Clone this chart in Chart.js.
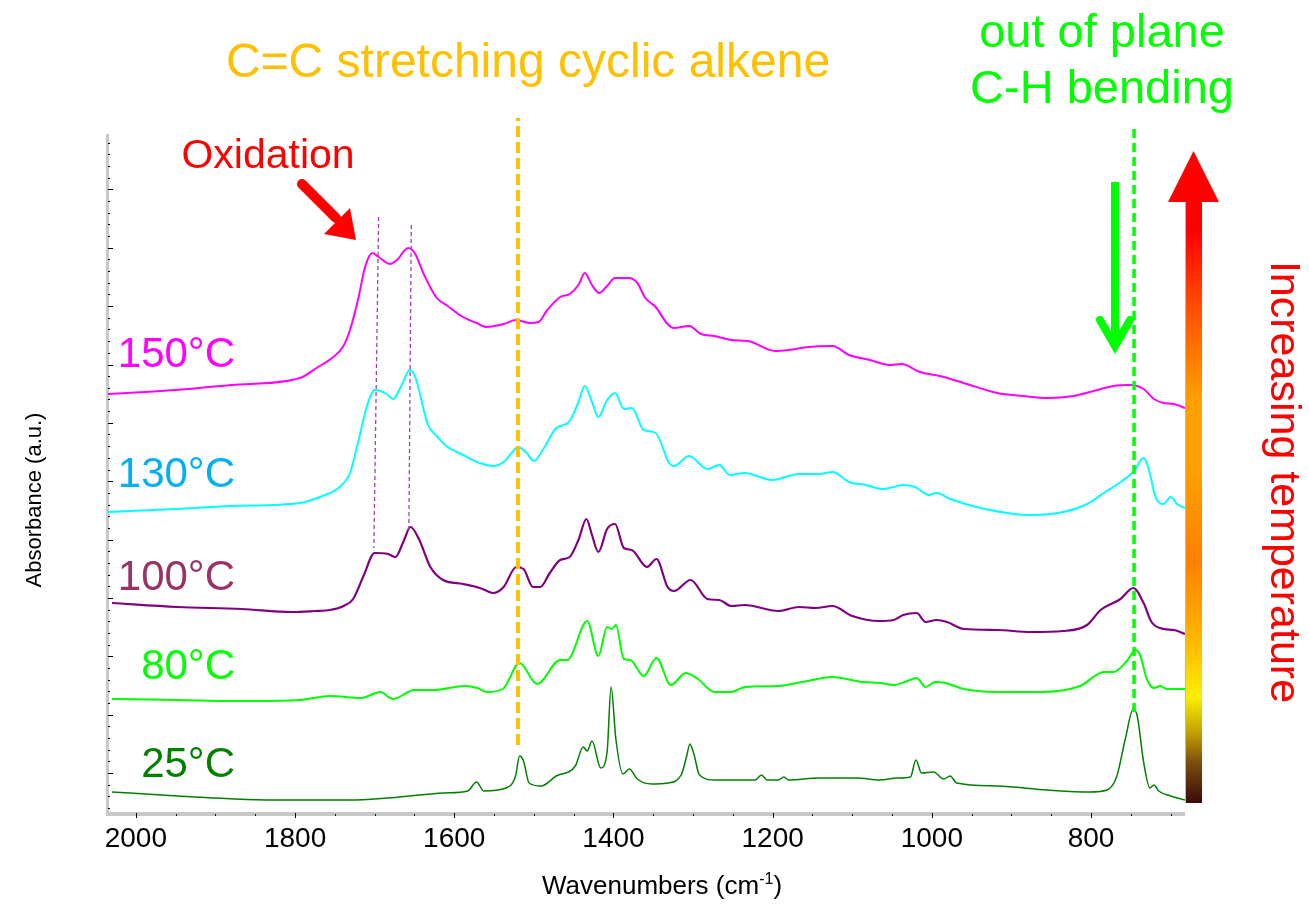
<!DOCTYPE html>
<html lang="en">
<head>
<meta charset="utf-8">
<title>FTIR spectra vs temperature</title>
<script src="https://cdn.jsdelivr.net/npm/chart.js@4.4.1/dist/chart.umd.min.js"></script>
<style>
  html, body { margin: 0; padding: 0; background: #ffffff; }
</style>
</head>
<body>
<canvas id="spectra" width="1309" height="904"></canvas>
<script>
// wavenumbers (cm-1) and absorbance (a.u., stacked offsets)
const wn150 = [2035,1950,1880,1794,1773,1752,1740,1731,1721,1712,1703,1695,1681,1672,1658,1649,1639,1622,1610,1589,1572,1559,1538,1522,1505,1494,1484,1467,1455,1444,1436,1427,1418,1408,1398,1381,1370,1360,1347,1332,1324,1305,1290,1273,1252,1231,1197,1180,1155,1125,1104,1078,1053,1038,1015,990,960,918,885,855,822,797,772,751,734,721,709,696,682];
const abs150 = [419,423,428,435,445,456,466,483,513,546,560,556,549,553,565,559,540,515,508,496,490,486,489,493,490,491,502,516,519,528,540,528,520,527,535,535,530,515,506,489,485,487,479,477,473,472,462,463,466,467,458,453,448,449,441,437,430,420,417,415,417,422,427,428,424,414,410,409,405];

const wn130 = [2035,1950,1880,1794,1769,1744,1731,1721,1710,1700,1685,1677,1666,1656,1649,1633,1622,1610,1589,1568,1551,1538,1528,1520,1509,1500,1488,1473,1455,1444,1436,1427,1419,1408,1398,1387,1377,1362,1347,1330,1324,1305,1282,1267,1254,1235,1201,1167,1142,1125,1104,1083,1062,1048,1036,1021,1004,994,977,939,897,876,835,805,784,763,747,734,728,719,709,700,692,682];
const abs130 = [301,304,307,310,316,326,340,370,406,423,419,414,428,443,436,388,377,367,358,350,347,351,360,366,360,352,364,384,392,411,427,411,396,413,420,404,405,383,380,350,347,357,344,348,338,340,333,339,339,341,331,328,324,326,328,326,318,320,314,305,299,298,301,309,320,331,341,355,345,316,309,316,309,305];

const wn100 = [2030,1948,1867,1804,1775,1756,1739,1727,1714,1700,1683,1674,1664,1655,1645,1630,1614,1589,1568,1559,1551,1538,1522,1513,1501,1492,1480,1467,1455,1444,1434,1427,1419,1408,1398,1387,1377,1358,1346,1332,1324,1303,1282,1267,1252,1235,1193,1167,1146,1125,1100,1066,1048,1036,1019,1008,994,981,960,918,876,835,805,788,763,747,734,724,709,696,682];
const abs100 = [210,206,204,201,202,203,207,214,237,260,259,256,271,286,275,246,233,229,225,222,220,226,246,244,226,226,240,253,256,273,294,278,261,284,289,265,263,246,254,226,222,233,214,213,207,208,202,206,205,207,197,192,193,198,200,191,193,191,184,183,181,182,188,203,214,225,210,191,184,183,179];

const wn80 = [2030,1948,1852,1794,1756,1717,1693,1677,1650,1626,1587,1571,1559,1539,1518,1496,1467,1458,1433,1419,1408,1402,1397,1387,1379,1362,1346,1328,1309,1294,1273,1252,1235,1193,1163,1125,1087,1065,1048,1034,1019,1008,996,983,960,918,864,814,784,772,755,744,738,730,721,713,705,682];
const abs80 = [114,113,112,113,117,115,121,114,123,123,127,125,121,124,150,129,153,153,192,157,186,184,188,154,153,137,155,128,140,134,121,121,126,127,131,136,131,130,128,131,135,126,131,130,124,121,121,127,141,141,152,163,157,134,125,127,124,124];

const wn25 = [2030,1948,1876,1828,1732,1684,1612,1583,1572,1563,1535,1523,1518,1513,1506,1491,1472,1448,1438,1433,1427,1416,1408,1403,1397,1388,1380,1370,1352,1332,1315,1308,1304,1299,1292,1273,1222,1214,1207,1193,1186,1180,1142,1095,1065,1044,1027,1020,1013,998,985,977,969,918,855,801,780,768,757,747,742,734,726,721,715,700,682];
const abs25 = [21,17,14,13,13,15,20,22,31,22,25,37,57,52,30,27,37,47,66,62,72,45,61,126,74,39,44,34,29,30,38,57,69,59,38,33,33,38,33,33,36,33,35,35,33,35,36,53,40,41,34,37,30,27,23,21,23,36,74,104,97,51,25,28,22,17,13];

const tempLabels = ['150°C', '130°C', '100°C', '80°C', '25°C'];
const lineColors = ['#ff00ff', '#00ffff', '#800080', '#00ff00', '#008000'];
const labelColors = ['#ff00ff', '#00b0f0', '#993366', '#00ff00', '#008000'];

// marker lines: C=C band, C-H band, oxidation peaks
const ccBandWn = [1520, 1520];
const ccBandAbs = [68, 695];
const chBandWn = [746, 746];
const chBandAbs = [101, 688];
const oxPeak1Wn = [1695, 1701];
const oxPeak1Abs = [596, 265];
const oxPeak2Wn = [1654, 1657];
const oxPeak2Abs = [588, 283];

const xTickStep = 200;
const yMajorTicks = [40, 98.4, 156.7, 215.1, 273.4, 331.8, 390.2, 448.5, 506.9, 565.2, 623.6];

function pts(xs, ys) {
  return xs.map((w, i) => ({ x: w, y: ys[i] }));
}

Chart.defaults.font.family = "'Liberation Sans', Arial, Helvetica, sans-serif";

const spectra = [
  [wn150, abs150], [wn130, abs130], [wn100, abs100], [wn80, abs80], [wn25, abs25]
];

const markerSets = [
  { label: 'C=C', data: pts(ccBandWn, ccBandAbs), borderColor: '#ffc000', borderWidth: 4, borderDash: [11, 5] },
  { label: 'C-H', data: pts(chBandWn, chBandAbs), borderColor: '#00ff00', borderWidth: 3.5, borderDash: [9, 5] },
  { label: 'ox1', data: pts(oxPeak1Wn, oxPeak1Abs), borderColor: '#a040b0', borderWidth: 1.3, borderDash: [4, 3] },
  { label: 'ox2', data: pts(oxPeak2Wn, oxPeak2Abs), borderColor: '#a040b0', borderWidth: 1.3, borderDash: [4, 3] }
].map(d => Object.assign(d, { clip: false, pointRadius: 0, tension: 0 }));

const spectraSets = spectra.map((s, i) => ({
  label: tempLabels[i],
  data: pts(s[0], s[1]),
  borderColor: lineColors[i],
  borderWidth: i === 4 ? 1.5 : (i === 2 ? 2.2 : 2),
  pointRadius: 0,
  cubicInterpolationMode: 'monotone'
}));

const labelBaselines = [367, 487, 590, 679, 777];

const decorations = {
  id: 'decorations',
  beforeDatasetsDraw(chart) {
    const { ctx, chartArea: a, scales: { x, y } } = chart;
    ctx.save();
    // axis lines
    ctx.fillStyle = '#c8c8c8';
    ctx.fillRect(a.left - 2, a.top, 3, a.bottom - a.top + 2);
    ctx.fillRect(a.left - 2, a.bottom - 1, a.right - a.left + 2, 4);
    ctx.fillStyle = '#000';
    // x ticks, minor every 50
    for (let w = 2000; w >= 700; w -= 50) {
      const px = Math.round(x.getPixelForValue(w));
      if (w % xTickStep === 0) ctx.fillRect(px, a.bottom, 1, 5);
      else ctx.fillRect(px, a.bottom + 1, 1, 2);
    }
    // y ticks
    const step = yMajorTicks[1] - yMajorTicks[0];
    yMajorTicks.forEach(v => {
      ctx.fillRect(a.left, Math.round(y.getPixelForValue(v)), 5, 1);
      for (let j = 1; j < 5; j++) {
        const m = v + j * step / 5;
        if (m < y.max) ctx.fillRect(a.left, Math.round(y.getPixelForValue(m)), 2, 1);
      }
    });
    for (let j = 1; j < 5; j++) {
      const m = yMajorTicks[0] - j * step / 5;
      if (m > y.min) ctx.fillRect(a.left, Math.round(y.getPixelForValue(m)), 2, 1);
    }
    ctx.restore();
  },
  afterDraw(chart) {
    const ctx = chart.ctx;
    const fam = "'Liberation Sans', Arial, sans-serif";
    ctx.save();

    // temperature labels
    ctx.textAlign = 'right';
    ctx.textBaseline = 'alphabetic';
    ctx.font = '42px ' + fam;
    tempLabels.forEach((t, i) => {
      ctx.fillStyle = labelColors[i];
      ctx.fillText(t, 235, labelBaselines[i]);
    });

    // band annotations
    ctx.textAlign = 'center';
    ctx.font = '48px ' + fam;
    ctx.fillStyle = '#ffc000';
    ctx.fillText('C=C stretching cyclic alkene', 528, 77);
    ctx.font = '47px ' + fam;
    ctx.fillStyle = '#00ff00';
    ctx.fillText('out of plane', 1102, 47);
    ctx.fillText('C-H bending', 1102, 103);
    ctx.font = '41px ' + fam;
    ctx.fillStyle = '#ff0000';
    ctx.fillText('Oxidation', 268, 168);

    // red oxidation arrow
    ctx.strokeStyle = '#ff0000';
    ctx.lineWidth = 10;
    ctx.lineCap = 'round';
    ctx.beginPath();
    ctx.moveTo(302, 184);
    ctx.lineTo(336, 218);
    ctx.stroke();
    ctx.fillStyle = '#ff0000';
    ctx.beginPath();
    ctx.moveTo(356, 240);
    ctx.lineTo(350, 208);
    ctx.lineTo(324, 234);
    ctx.closePath();
    ctx.fill();

    // green arrow
    ctx.strokeStyle = '#00ff00';
    ctx.lineWidth = 8;
    ctx.lineCap = 'butt';
    ctx.beginPath();
    ctx.moveTo(1115, 182);
    ctx.lineTo(1115, 344);
    ctx.stroke();
    ctx.lineJoin = 'miter';
    ctx.lineCap = 'round';
    ctx.beginPath();
    ctx.moveTo(1100, 320);
    ctx.lineTo(1115, 346);
    ctx.lineTo(1130, 320);
    ctx.stroke();

    // temperature gradient arrow
    const g = ctx.createLinearGradient(0, 803, 0, 201);
    g.addColorStop(0, '#3a0a08');
    g.addColorStop(0.065, '#7a4a10');
    g.addColorStop(0.116, '#c0a000');
    g.addColorStop(0.176, '#ffee00');
    g.addColorStop(0.24, '#ffc800');
    g.addColorStop(0.30, '#ffaa00');
    g.addColorStop(0.405, '#ff8000');
    g.addColorStop(0.55, '#ffa000');
    g.addColorStop(0.67, '#ffa000');
    g.addColorStop(0.82, '#ff5000');
    g.addColorStop(0.95, '#ff0000');
    g.addColorStop(1, '#ff0000');
    ctx.fillStyle = g;
    ctx.fillRect(1185, 200, 17, 603);
    ctx.fillStyle = '#b8b8b8';
    ctx.fillRect(1185, 200, 1, 603);
    ctx.fillStyle = '#ff0000';
    ctx.beginPath();
    ctx.moveTo(1168, 202);
    ctx.lineTo(1219, 202);
    ctx.lineTo(1193.5, 151);
    ctx.closePath();
    ctx.fill();

    // vertical red caption
    ctx.save();
    ctx.translate(1271, 482);
    ctx.rotate(Math.PI / 2);
    ctx.textAlign = 'center';
    ctx.font = '43px ' + fam;
    ctx.fillStyle = '#ff0000';
    ctx.fillText('Increasing temperature', 0, 0);
    ctx.restore();

    // axis titles
    ctx.fillStyle = '#000';
    ctx.save();
    ctx.translate(41, 500);
    ctx.rotate(-Math.PI / 2);
    ctx.textAlign = 'center';
    ctx.font = '22px ' + fam;
    ctx.fillText('Absorbance (a.u.)', 0, 0);
    ctx.restore();

    const main = 'Wavenumbers (cm', sup = '-1', end = ')';
    ctx.font = '26px ' + fam;
    const w1 = ctx.measureText(main).width, w3 = ctx.measureText(end).width;
    ctx.font = '16px ' + fam;
    const w2 = ctx.measureText(sup).width;
    let sx = 662 - (w1 + w2 + w3) / 2;
    ctx.textAlign = 'left';
    ctx.font = '26px ' + fam;
    ctx.fillText(main, sx, 894);
    ctx.font = '16px ' + fam;
    ctx.fillText(sup, sx + w1, 884);
    ctx.font = '26px ' + fam;
    ctx.fillText(end, sx + w1 + w2, 894);

    ctx.restore();
  }
};

new Chart(document.getElementById('spectra'), {
  type: 'line',
  data: { datasets: markerSets.concat(spectraSets) },
  options: {
    responsive: false,
    animation: false,
    layout: { padding: { left: 108, right: 124, top: 134, bottom: 0 } },
    plugins: { legend: { display: false }, tooltip: { enabled: false } },
    scales: {
      x: {
        type: 'linear',
        reverse: true,
        min: 682,
        max: 2035,
        grid: { display: false, drawTicks: false },
        border: { display: false },
        ticks: {
          stepSize: xTickStep,
          includeBounds: false,
          padding: 9,
          color: '#000',
          font: { size: 28 },
          maxRotation: 0,
          autoSkip: false,
          callback: v => String(v)
        },
        afterFit: s => { s.height = 91; }
      },
      y: { type: 'linear', display: false, min: 0, max: 679 }
    }
  },
  plugins: [decorations]
});
</script>
</body>
</html>
